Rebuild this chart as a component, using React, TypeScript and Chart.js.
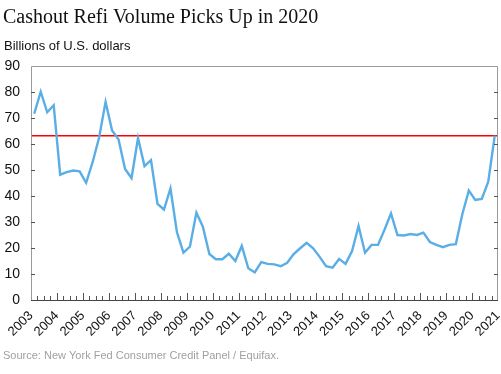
import React, { useEffect, useRef } from "react";
import { Chart, registerables } from "chart.js";

Chart.register(...registerables);

// Quarterly cash-out refinance volume, 2003Q1 .. 2020Q4 (billions of U.S. dollars)
const startYear = 2003;
const endYear = 2021;
const volumes: number[] = [
  71.7, 80.1, 72.2, 74.9,
  48.2, 49.2, 49.8, 49.5,
  45.1, 53.0, 62.5, 76.2,
  65.2, 61.7, 50.4, 46.9,
  62.3, 51.5, 53.8, 37.0,
  34.8, 42.9, 26.1, 18.2,
  20.5, 33.6, 28.2, 17.7,
  15.7, 15.7, 17.8, 15.0,
  20.8, 12.2, 10.6, 14.6,
  13.9, 13.7, 13.0, 14.3,
  17.7, 19.9, 22.0, 19.9,
  16.6, 13.0, 12.4, 15.8,
  13.9, 18.8, 28.5, 18.2,
  21.2, 21.2, 27.0, 33.3,
  25.0, 24.8, 25.4, 25.0,
  25.9, 22.3, 21.2, 20.3,
  21.2, 21.5, 33.0, 42.1,
  38.5, 38.9, 45.5, 63.2,
];
const referenceLevel = 63.2;
const yTicks: number[] = [0, 10, 20, 30, 40, 50, 60, 70, 80, 90];
const yearTicks: number[] = Array.from({ length: endYear - startYear + 1 }, (_, i) => startYear + i);

const titleText = "Cashout Refi Volume Picks Up in 2020";
const subtitleText = "Billions of U.S. dollars";
const sourceText = "Source: New York Fed Consumer Credit Panel / Equifax.";

const W = 501;
const H = 374;

function drawFrame(chart: any) {
  const { ctx, chartArea, scales } = chart;
  const left = Math.round(chartArea.left);
  const right = Math.round(chartArea.right);
  const top = Math.round(chartArea.top);
  const bottom = Math.round(chartArea.bottom);
  const x = scales["x"];
  const y = scales["y"];
  ctx.save();
  ctx.lineWidth = 1;
  ctx.strokeStyle = "#9a9a9a";
  ctx.beginPath();
  ctx.moveTo(left + 0.5, bottom);
  ctx.lineTo(left + 0.5, top + 0.5);
  ctx.lineTo(right - 0.5, top + 0.5);
  ctx.lineTo(right - 0.5, bottom);
  ctx.stroke();
  ctx.strokeStyle = "#555555";
  ctx.beginPath();
  for (let k = 1; k < yTicks.length - 1; k++) {
    const py = Math.round(y.getPixelForValue(yTicks[k])) + 0.5;
    ctx.moveTo(left, py);
    ctx.lineTo(left + 4, py);
    ctx.moveTo(right, py);
    ctx.lineTo(right - 4, py);
  }
  ctx.stroke();
  ctx.beginPath();
  const nq = (endYear - startYear) * 4;
  for (let q = 1; q < nq; q++) {
    const px = Math.round(x.getPixelForValue(startYear + q / 4)) + 0.5;
    const len = q % 4 === 0 ? 7 : 4;
    ctx.moveTo(px, bottom);
    ctx.lineTo(px, bottom - len);
  }
  ctx.stroke();
  ctx.strokeStyle = "#444444";
  ctx.beginPath();
  ctx.moveTo(left, bottom + 0.5);
  ctx.lineTo(right, bottom + 0.5);
  ctx.stroke();
  ctx.restore();
}

const decoPlugin = {
  id: "decoFrame",
  afterDraw(chart: any) {
    drawFrame(chart);
    const ctx = chart.ctx;
    ctx.save();
    ctx.textAlign = "left";
    ctx.textBaseline = "alphabetic";
    ctx.fillStyle = "#111111";
    ctx.font = '20px "Liberation Serif", serif';
    ctx.fillText(titleText, 3, 23);
    ctx.font = '13px "Liberation Sans", Arial, sans-serif';
    ctx.fillText(subtitleText, 4, 50);
    ctx.fillStyle = "#a0a0a0";
    ctx.font = '11px "Liberation Sans", Arial, sans-serif';
    ctx.fillText(sourceText, 3, 359);
    ctx.restore();
  },
};

export default function App() {
  const ref = useRef<HTMLCanvasElement | null>(null);

  useEffect(() => {
    if (!ref.current) return;
    const points = volumes.map((v, i) => ({ x: startYear + (i + 0.5) / 4, y: v }));
    const refLine = [
      { x: startYear, y: referenceLevel },
      { x: endYear, y: referenceLevel },
    ];
    const chart = new Chart(ref.current, {
      type: "line",
      data: {
        datasets: [
          {
            data: points,
            borderColor: "#5aaee6",
            borderWidth: 2.4,
            pointRadius: 0,
            tension: 0,
          },
          {
            data: refLine,
            borderColor: "#ff0000",
            borderWidth: 1.5,
            pointRadius: 0,
            tension: 0,
          },
        ],
      },
      options: {
        responsive: false,
        animation: false,
        events: [],
        layout: { padding: { top: 66, right: 3, left: 0, bottom: 0 } },
        plugins: {
          legend: { display: false },
          title: { display: false },
          tooltip: { enabled: false },
        },
        scales: {
          x: {
            type: "linear",
            min: startYear,
            max: endYear,
            grid: { display: false, drawTicks: false },
            border: { display: false },
            afterFit: (scale: any) => {
              scale.height = H - 300;
              scale.paddingLeft = 0;
              scale.paddingRight = 0;
            },
            afterBuildTicks: (scale: any) => {
              scale.ticks = yearTicks.map((v) => ({ value: v }));
            },
            ticks: {
              autoSkip: false,
              maxRotation: 45,
              minRotation: 45,
              padding: 8,
              color: "#111111",
              font: { family: '"Liberation Sans", Arial, sans-serif', size: 13 },
              callback: (v: any) => String(v),
            },
          },
          y: {
            min: 0,
            max: 90,
            grid: { display: false, drawTicks: false },
            border: { display: false },
            afterFit: (scale: any) => {
              scale.width = 31;
              scale.paddingTop = 0;
              scale.paddingBottom = 0;
            },
            afterBuildTicks: (scale: any) => {
              scale.ticks = yTicks.map((v) => ({ value: v }));
            },
            ticks: {
              padding: 11,
              color: "#111111",
              font: { family: '"Liberation Sans", Arial, sans-serif', size: 14 },
              callback: (v: any) => String(v),
            },
          },
        },
      },
      plugins: [decoPlugin],
    });
    return () => chart.destroy();
  }, []);

  return (
    <div style={{ position: "absolute", left: 0, top: 0, width: W, height: H, background: "#ffffff" }}>
      <canvas ref={ref} width={W} height={H} style={{ display: "block", width: W, height: H }} />
    </div>
  );
}
